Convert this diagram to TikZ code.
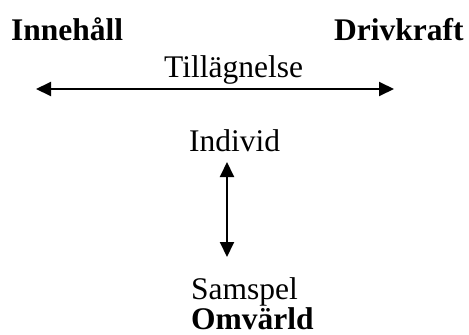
\documentclass[tikz,border=0pt]{standalone}
\usepackage{fontspec}
\setmainfont{Liberation Serif}
\usetikzlibrary{arrows.meta}
\begin{document}
\begin{tikzpicture}[x=1pt,y=-1pt,
  lbl/.style={inner sep=0pt,anchor=base west,font=\fontsize{31.5}{36}\selectfont},
  blbl/.style={lbl,font=\fontsize{31.5}{36}\selectfont\bfseries},
  dbl/.style={line width=2pt,{Triangle[length=15pt,width=14pt]}-{Triangle[length=15pt,width=14pt]}}]
\useasboundingbox (0,0) rectangle (469,335);
\node[blbl] (inn) at (11,40) {Innehåll};
\node[blbl] (dri) at (334,40) {Drivkraft};
\node[lbl] (til) at (164,77) {Tillägnelse};
\node[lbl] (ind) at (189,151) {Individ};
\node[lbl] (sam) at (191,299) {Samspel};
\node[blbl] (omv) at (191,329) {Omvärld};
\coordinate (hl) at (36,89);
\coordinate (hr) at (394,89);
\coordinate (vt) at (227,162);
\coordinate (vb) at (227,257);
\draw[dbl] (hl) -- (hr);
\draw[dbl] (vt) -- (vb);
\end{tikzpicture}
\end{document}
